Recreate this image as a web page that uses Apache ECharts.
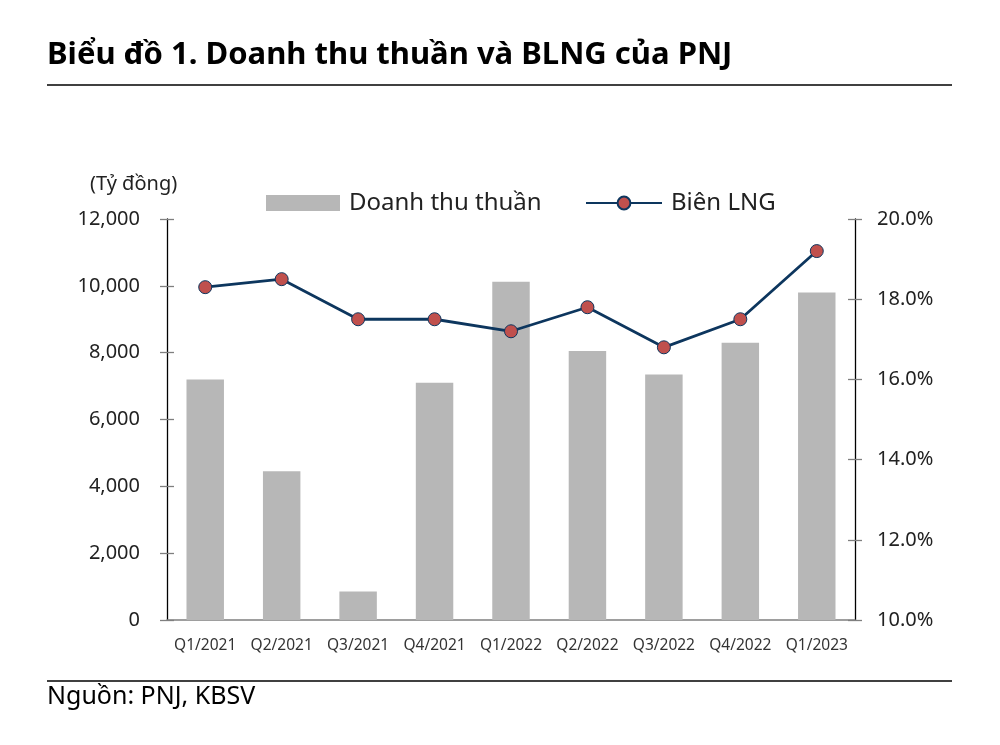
<!DOCTYPE html>
<html><head><meta charset="utf-8">
<script src="https://cdn.jsdelivr.net/npm/echarts@6/dist/echarts.min.js"></script>
<style>html,body{margin:0;padding:0;background:#fff}#c{width:1000px;height:745px}</style>
</head><body><div id="c"></div>
<script>
const categories = ['Q1/2021','Q2/2021','Q3/2021','Q4/2021','Q1/2022','Q2/2022','Q3/2022','Q4/2022','Q1/2023'];
const revenue = [7200, 4450, 850, 7100, 10120, 8050, 7350, 8300, 9800];
const margin = [18.3, 18.5, 17.5, 17.5, 17.2, 17.8, 16.8, 17.5, 19.2];
const leftTicks = [0, 2000, 4000, 6000, 8000, 10000, 12000];
const rightTicks = [10, 12, 14, 16, 18, 20];

const FONT = '"Noto Sans", "DejaVu Sans", sans-serif';
const chart = echarts.init(document.getElementById('c'), null, {renderer: 'canvas'});
const tickStyle = {color: '#7f7f7f', width: 1.3};
chart.setOption({
  animation: false,
  textStyle: {fontFamily: FONT},
  grid: {left: 167, right: 145, top: 219, bottom: 125, containLabel: false},
  legend: [
    {data: [{name: 'Doanh thu thuần', icon: 'rect'}], left: 261, top: 186, itemWidth: 74, itemHeight: 16, itemGap: 0,
     textStyle: {fontSize: 24, color: '#222', fontFamily: FONT, padding: [0, 0, 0, 4]}},
    {data: ['Biên LNG'], left: 580, top: 186, itemWidth: 76, itemHeight: 16,
     textStyle: {fontSize: 24, color: '#222', fontFamily: FONT, padding: [0, 0, 0, 4]}}
  ],
  xAxis: {
    type: 'category', data: categories, boundaryGap: true,
    axisLine: {lineStyle: {color: '#7f7f7f', width: 1.5}},
    axisTick: {inside: true, length: 7, alignWithLabel: false, lineStyle: {color: '#333'}},
    axisLabel: {interval: 0, fontSize: 15.5, color: '#333', margin: 18, fontFamily: FONT}
  },
  yAxis: [
    {type: 'value', min: 0, max: 12000, interval: 2000, position: 'left',
     axisLine: {show: true, lineStyle: {color: '#000', width: 1.3}},
     axisTick: {show: true, length: 7, lineStyle: tickStyle},
     splitLine: {show: false},
     axisLabel: {fontSize: 20, color: '#222', margin: 27, fontFamily: FONT,
       formatter: v => leftTicks.includes(v) ? v.toLocaleString('en-US') : ''}},
    {type: 'value', min: 10, max: 20, interval: 2, position: 'right',
     axisLine: {show: true, lineStyle: {color: '#000', width: 1.3}},
     axisTick: {show: true, length: 7, lineStyle: tickStyle},
     splitLine: {show: false},
     axisLabel: {fontSize: 20, color: '#222', margin: 22, fontFamily: FONT,
       formatter: v => rightTicks.includes(v) ? v.toFixed(1) + '%' : ''}},
    {type: 'value', min: 0, max: 12000, interval: 2000, position: 'left',
     axisLine: {show: false}, axisTick: {show: true, inside: true, length: 7, lineStyle: tickStyle},
     splitLine: {show: false}, axisLabel: {show: false}},
    {type: 'value', min: 10, max: 20, interval: 2, position: 'right',
     axisLine: {show: false}, axisTick: {show: true, inside: true, length: 7, lineStyle: tickStyle},
     splitLine: {show: false}, axisLabel: {show: false}}
  ],
  series: [
    {name: 'Doanh thu thuần', type: 'bar', data: revenue, yAxisIndex: 0, barWidth: '49%',
     itemStyle: {color: '#b7b7b7'}},
    {name: 'Biên LNG', type: 'line', data: margin, yAxisIndex: 1, symbol: 'circle', symbolSize: 13,
     lineStyle: {color: '#0d365e', width: 2.8},
     itemStyle: {color: '#c0504d', borderColor: '#0d365e', borderWidth: 1}}
  ],
  graphic: [
    {type: 'text', left: 47, top: 40, style: {text: 'Biểu đồ 1. Doanh thu thuần và BLNG của PNJ', fontFamily: FONT, fontWeight: 'bold', fontSize: 31, fill: '#000'}},
    {type: 'line', shape: {x1: 47, y1: 85, x2: 952, y2: 85}, style: {stroke: '#000', lineWidth: 1.3}},
    {type: 'text', left: 90, top: 174, style: {text: '(Tỷ đồng)', fontFamily: FONT, fontSize: 20, fill: '#222'}},
    {type: 'line', shape: {x1: 47, y1: 681, x2: 952, y2: 681}, style: {stroke: '#000', lineWidth: 1.3}},
    {type: 'text', left: 47, top: 684, style: {text: 'Nguồn: PNJ, KBSV', fontFamily: FONT, fontSize: 25, fill: '#000'}}
  ]
});
</script></body></html>
